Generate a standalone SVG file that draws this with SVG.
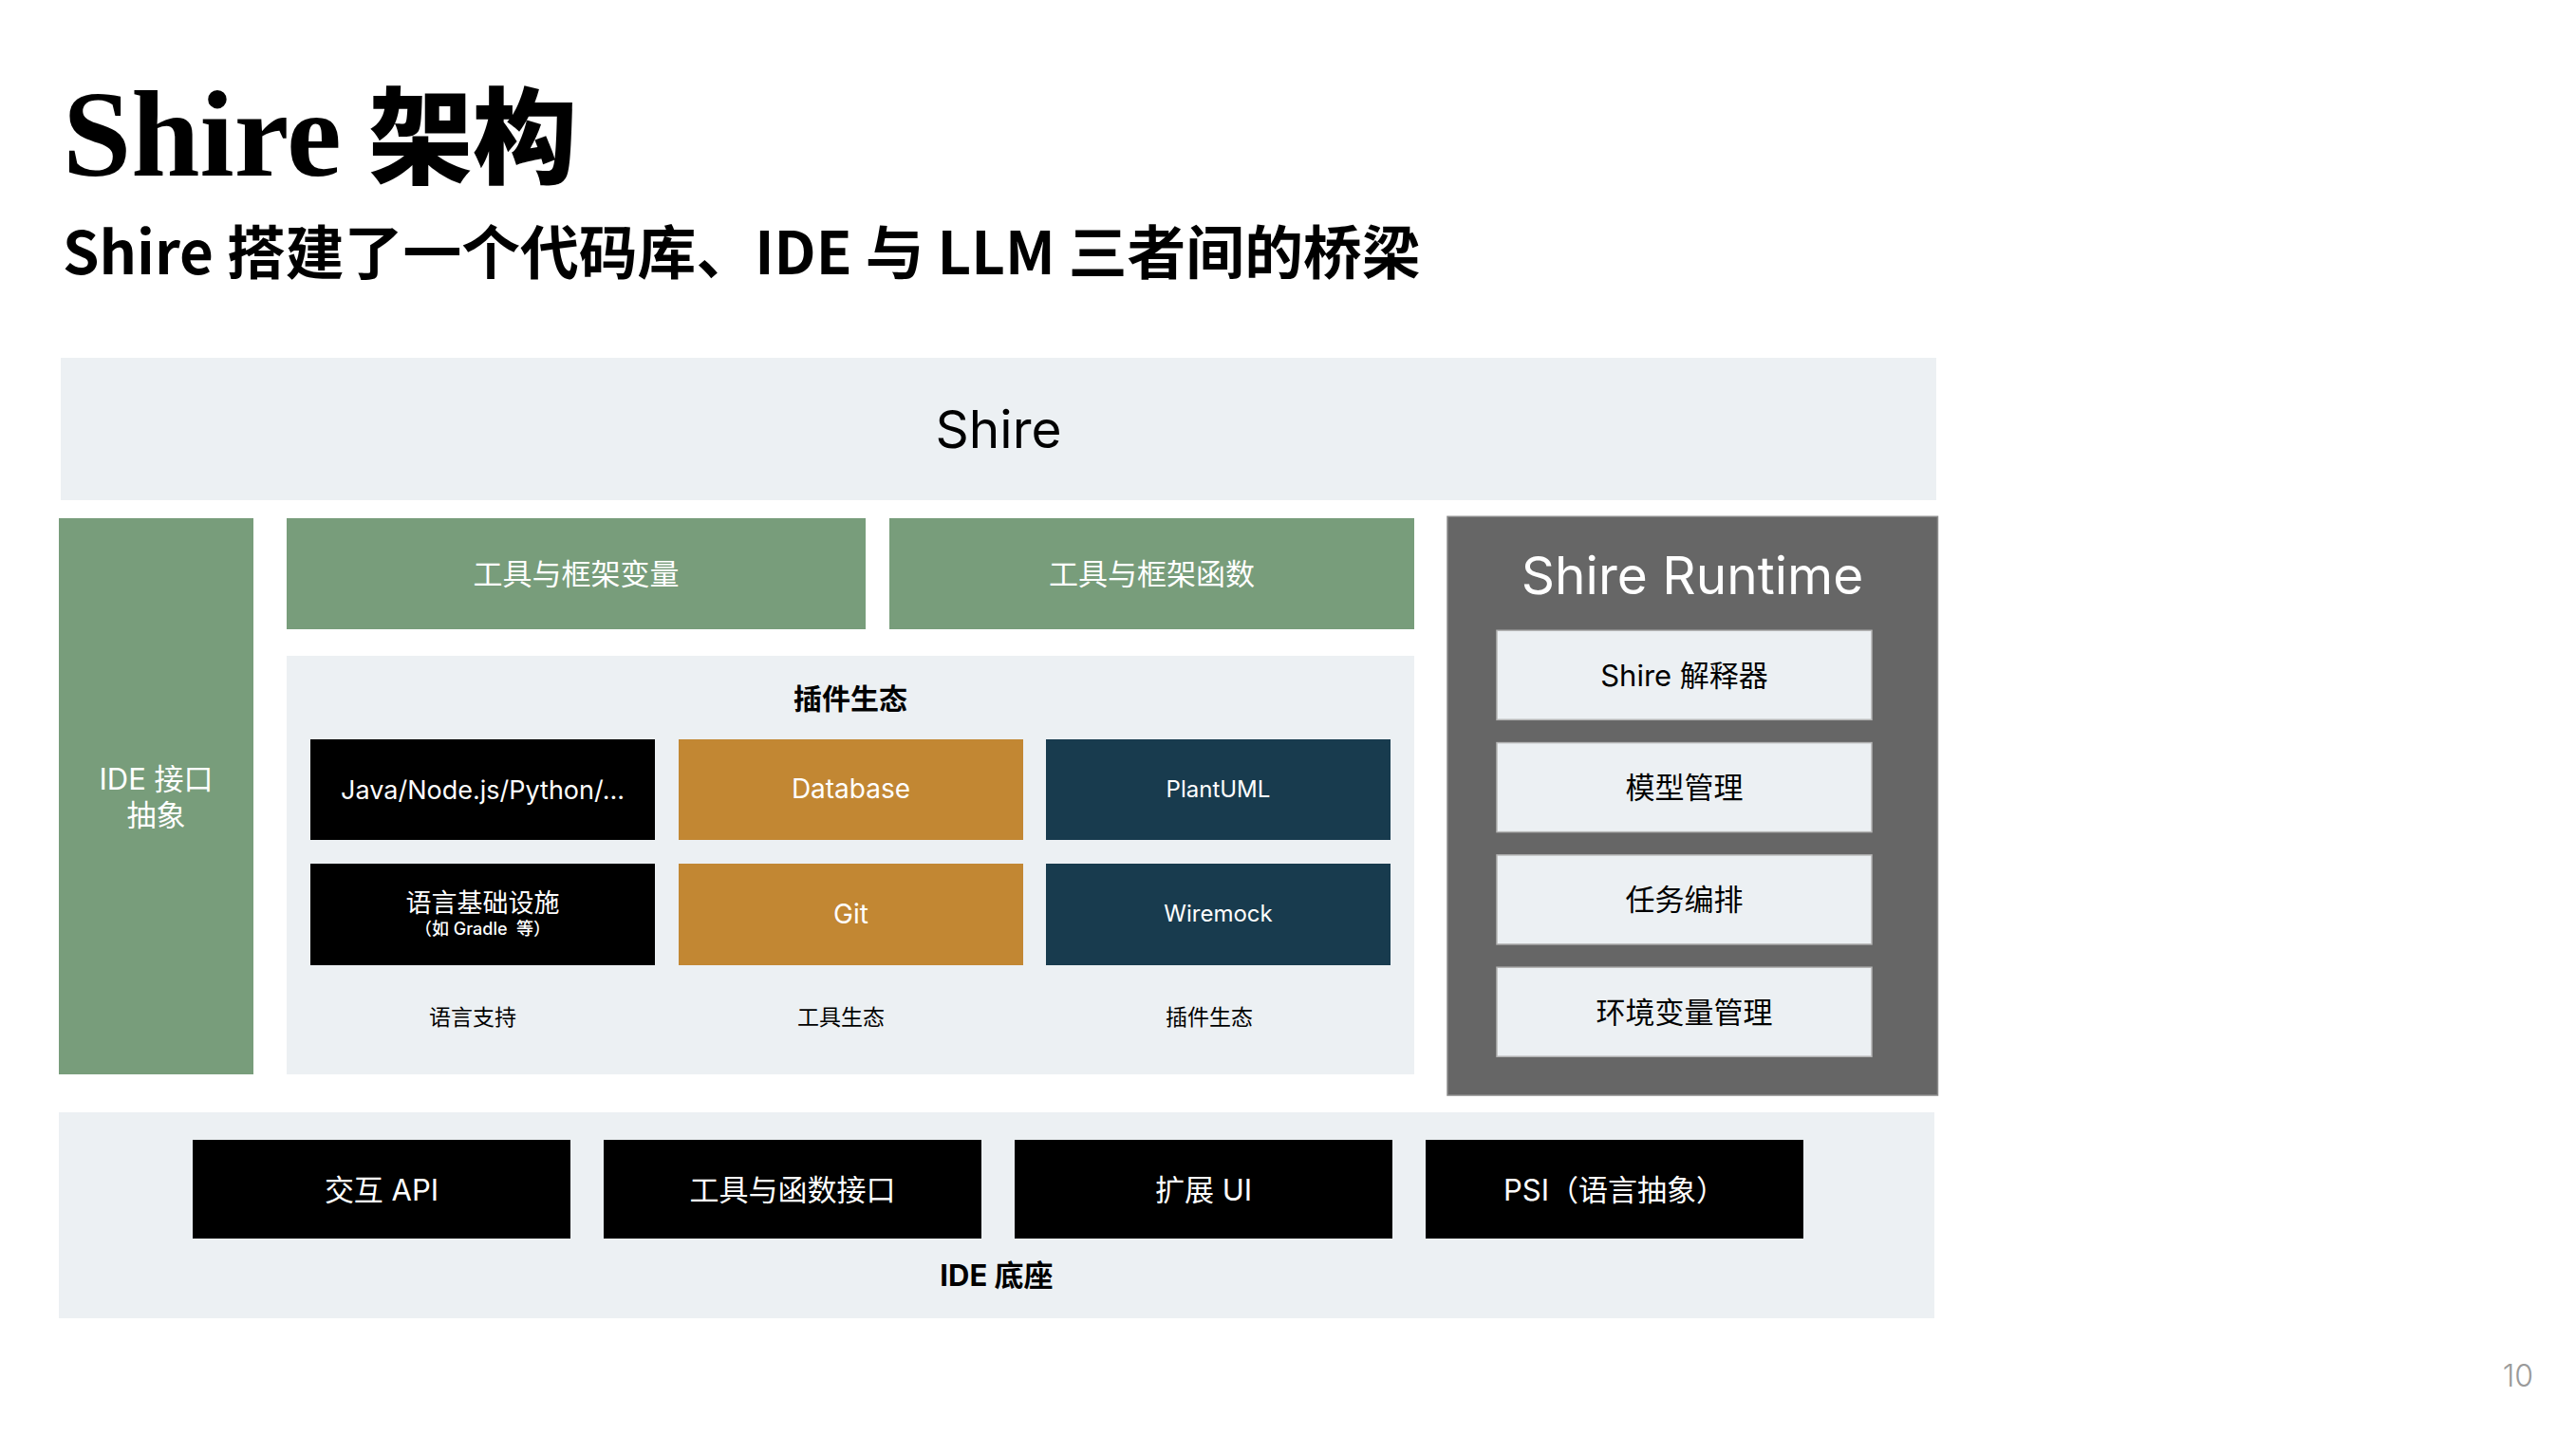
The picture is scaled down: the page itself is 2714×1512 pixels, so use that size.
<svg xmlns="http://www.w3.org/2000/svg" width="2714" height="1512" viewBox="0 0 2714 1512">
<style>
.t{font-family:"Inter","Noto Sans CJK SC",sans-serif;text-anchor:middle}
.w{fill:#ffffff}
.k{fill:#000000}
.panel{fill:#ECF0F3}
.green{fill:#789D7B}
.orange{fill:#C28733}
.navy{fill:#183B4E}
.black{fill:#000000}
.item{fill:#ECF0F3;stroke:#B4B4B4;stroke-width:1.5}
</style>
<rect width="2714" height="1512" fill="#ffffff"/>
<g id="title">
<text x="66" y="185" font-family="'Liberation Serif',serif" font-weight="bold" font-size="130" fill="#000">Shire</text>
<text x="388" y="185" font-family="'Noto Sans CJK SC',sans-serif" font-weight="900" font-size="110" fill="#000">架构</text>
<text x="66" y="289" font-family="'Noto Sans CJK SC',sans-serif" font-weight="bold" font-size="61.8" fill="#000">Shire 搭建了一个代码库、IDE 与 LLM 三者间的桥梁</text>
</g>
<g id="shire">
<rect class="panel" x="64" y="377" width="1976" height="150"/>
<text class="t k" x="1052" y="472" font-size="55">Shire</text>
</g>
<g id="ide-abstract">
<rect class="green" x="62" y="546" width="205" height="586"/>
<text class="t w" x="164.5" y="832" font-size="31">IDE 接口</text>
<text class="t w" x="164.5" y="870" font-size="31">抽象</text>
</g>
<g id="tool-vars">
<rect class="green" x="302" y="546" width="610" height="117"/>
<text class="t w" x="607" y="615.5" font-size="31">工具与框架变量</text>
</g>
<g id="tool-funcs">
<rect class="green" x="937" y="546" width="553" height="117"/>
<text class="t w" x="1213.5" y="615.5" font-size="31">工具与框架函数</text>
</g>
<g id="plugin-ecosystem">
<rect class="panel" x="302" y="691" width="1188" height="441"/>
<text class="t k" x="896" y="747" font-size="30" font-weight="bold">插件生态</text>
<text class="t k" x="498" y="1080" font-size="23">语言支持</text>
<text class="t k" x="886" y="1080" font-size="23">工具生态</text>
<text class="t k" x="1274" y="1080" font-size="23">插件生态</text>
</g>
<g id="languages">
<rect class="black" x="327" y="779" width="363" height="106"/>
<text class="t w" x="508.5" y="842" font-size="27">Java/Node.js/Python/...</text>
</g>
<g id="database">
<rect class="orange" x="715" y="779" width="363" height="106"/>
<text class="t w" x="896.5" y="841" font-size="28">Database</text>
</g>
<g id="plantuml">
<rect class="navy" x="1102" y="779" width="363" height="106"/>
<text class="t w" x="1283.5" y="840" font-size="24">PlantUML</text>
</g>
<g id="lang-infra">
<rect class="black" x="327" y="910" width="363" height="107"/>
<text class="t w" x="508.5" y="961" font-size="27">语言基础设施</text>
<text class="t w" x="508.5" y="985" font-size="18" font-weight="500" style="white-space:pre">（如 Gradle  等）</text>
</g>
<g id="git">
<rect class="orange" x="715" y="910" width="363" height="107"/>
<text class="t w" x="896.5" y="972.5" font-size="28">Git</text>
</g>
<g id="wiremock">
<rect class="navy" x="1102" y="910" width="363" height="107"/>
<text class="t w" x="1283.5" y="970.5" font-size="24">Wiremock</text>
</g>
<g id="shire-runtime">
<rect x="1525" y="544.3" width="516.5" height="609.7" fill="#666666" stroke="#8C8C8C" stroke-width="1.5"/>
<text class="t w" x="1783" y="626" font-size="55">Shire Runtime</text>
</g>
<g id="interpreter">
<rect class="item" x="1577" y="664.3" width="395" height="94"/>
<text class="t k" x="1774.5" y="722.5" font-size="31">Shire 解释器</text>
</g>
<g id="model-mgmt">
<rect class="item" x="1577" y="782.6" width="395" height="94"/>
<text class="t k" x="1774.5" y="841" font-size="31">模型管理</text>
</g>
<g id="task-orchestration">
<rect class="item" x="1577" y="900.9" width="395" height="94"/>
<text class="t k" x="1774.5" y="959.4" font-size="31">任务编排</text>
</g>
<g id="env-mgmt">
<rect class="item" x="1577" y="1019.2" width="395" height="94"/>
<text class="t k" x="1774.5" y="1077.7" font-size="31">环境变量管理</text>
</g>
<g id="ide-base">
<rect class="panel" x="62" y="1172" width="1976" height="217"/>
<text class="t k" x="1050" y="1354.5" font-size="31" font-weight="bold">IDE 底座</text>
</g>
<g id="interaction-api">
<rect class="black" x="203" y="1201" width="398" height="104"/>
<text class="t w" x="402" y="1264.5" font-size="31">交互 API</text>
</g>
<g id="tool-func-interface">
<rect class="black" x="636" y="1201" width="398" height="104"/>
<text class="t w" x="835" y="1264.5" font-size="31">工具与函数接口</text>
</g>
<g id="extension-ui">
<rect class="black" x="1069" y="1201" width="398" height="104"/>
<text class="t w" x="1268" y="1264.5" font-size="31">扩展 UI</text>
</g>
<g id="psi">
<rect class="black" x="1502" y="1201" width="398" height="104"/>
<text class="t w" x="1701" y="1264.5" font-size="31">PSI（语言抽象）</text>
</g>
<g id="connectors"></g>
<g id="page-number">
<text x="2669" y="1461" font-family="'Inter','Noto Sans',sans-serif" font-size="32" font-weight="300" fill="#9A9A9A" text-anchor="end">10</text>
</g>
</svg>
